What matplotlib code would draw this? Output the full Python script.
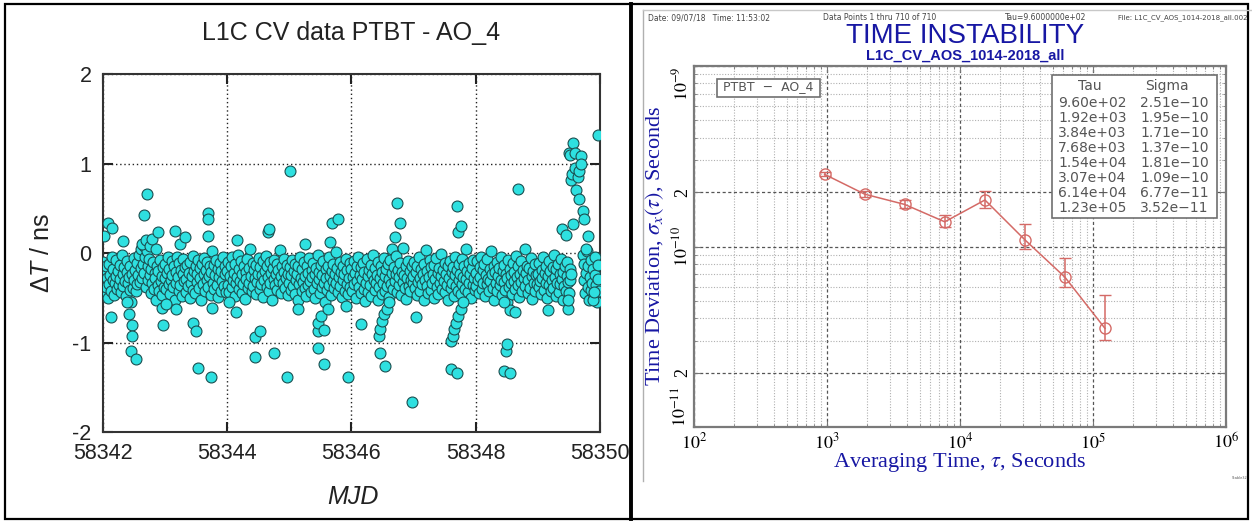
import numpy as np
import matplotlib
matplotlib.use("Agg")
import matplotlib.pyplot as plt
from matplotlib.patches import Rectangle
from matplotlib.lines import Line2D
from matplotlib.ticker import LogLocator, NullFormatter

plt.rcParams['mathtext.fontset'] = 'stix'
plt.rcParams['mathtext.rm'] = 'Liberation Sans'
plt.rcParams['mathtext.it'] = 'Liberation Sans:italic'
plt.rcParams['mathtext.bf'] = 'Liberation Sans:bold'

# ---------------- Left panel data: L1C CV data PTBT - AO_4 ----------------
nan = np.nan
band_days = [58342, 58343, 58344, 58345, 58346, 58347, 58348, 58349]
band_day0 = [-0.10,-0.32,-0.45,-0.22,-0.38,-0.15,-0.28,-0.50,-0.12,-0.35,
             -0.25,-0.42,-0.05,-0.30,-0.18,-0.47,-0.33,-0.08,-0.26,-0.40,
             -0.20,-0.36,-0.13,-0.29,-0.44,-0.02,-0.24,-0.37,-0.16,-0.31,
             -0.48,-0.21,-0.09,-0.34,-0.27,-0.41,-0.14,-0.55,-0.23,-0.39,
             -0.06,-0.30,-0.19,-0.43,-0.11,-0.35,-0.25,-0.02,-0.32,-0.17,
             0.05,-0.28,-0.12,0.08,-0.22,-0.04,-0.38,0.02,-0.15,-0.30,
             -0.07,-0.25,-0.45,-0.18,-0.33,-0.10,-0.40,-0.22,-0.28,-0.52,
             -0.14,-0.36,-0.20,-0.43,-0.08,-0.31,-0.26,-0.47,-0.16,-0.38]
band_day1 = [-0.28,-0.12,-0.40,-0.22,-0.05,-0.35,-0.18,-0.46,-0.30,-0.09,
             -0.25,-0.38,-0.15,-0.52,-0.21,-0.33,-0.04,-0.27,-0.42,-0.11,
             -0.36,-0.19,-0.48,-0.24,-0.07,-0.31,-0.16,-0.44,-0.29,-0.13,
             -0.37,-0.22,-0.50,-0.10,-0.34,-0.26,-0.41,-0.03,-0.20,-0.45,
             -0.14,-0.32,-0.23,-0.08,-0.39,-0.17,-0.28,-0.53,-0.12,-0.35,
             -0.24,-0.06,-0.43,-0.19,-0.30,-0.10,-0.38,-0.26,-0.15,-0.47,
             -0.21,0.02,-0.33,-0.13,-0.40,-0.25,-0.08,-0.36,-0.18,-0.49,
             -0.27,-0.11,-0.42,-0.20,-0.31,-0.05,-0.37,-0.23,-0.14,-0.44]
band_day2 = [-0.20,-0.36,-0.10,-0.44,-0.26,-0.15,-0.38,-0.05,-0.30,-0.22,
             -0.48,-0.12,-0.34,-0.27,-0.02,-0.40,-0.18,-0.31,-0.09,-0.45,
             -0.24,-0.35,-0.14,-0.51,-0.21,-0.29,-0.07,-0.39,-0.17,-0.33,
             0.04,-0.26,-0.42,-0.11,-0.37,-0.19,-0.28,-0.46,-0.13,-0.32,
             -0.23,-0.06,-0.40,-0.16,-0.35,-0.25,-0.49,-0.09,-0.30,-0.20,
             -0.03,-0.38,-0.14,-0.27,-0.43,-0.10,-0.33,-0.22,-0.52,-0.17,
             -0.29,-0.08,-0.36,-0.24,-0.12,-0.41,-0.19,-0.31,0.03,-0.26,
             -0.45,-0.15,-0.34,-0.21,-0.07,-0.39,-0.28,-0.13,-0.47,-0.23]
band_day3 = [-0.33,-0.16,-0.41,-0.25,-0.08,-0.37,-0.20,-0.46,-0.12,-0.30,
             -0.23,-0.52,-0.15,-0.35,-0.04,-0.28,-0.43,-0.18,-0.32,-0.10,
             -0.39,-0.26,-0.48,-0.14,-0.22,-0.36,-0.06,-0.31,-0.44,-0.19,
             -0.27,-0.11,-0.40,-0.24,-0.50,-0.17,-0.34,-0.02,-0.29,-0.21,
             -0.45,-0.13,-0.38,-0.25,-0.09,-0.33,-0.55,-0.18,-0.28,-0.41,
             -0.15,-0.36,-0.05,-0.26,-0.47,-0.20,-0.31,-0.12,-0.39,-0.23,
             0.01,-0.34,-0.17,-0.44,-0.27,-0.10,-0.37,-0.21,-0.49,-0.14,
             -0.30,-0.24,-0.42,-0.07,-0.35,-0.19,-0.46,-0.28,-0.11,-0.38]
band_day4 = [-0.18,-0.42,-0.27,-0.09,-0.35,-0.22,-0.50,-0.14,-0.31,-0.05,
             -0.38,-0.25,-0.45,-0.16,-0.29,-0.11,-0.40,-0.21,-0.54,-0.33,
             -0.07,-0.26,-0.44,-0.19,-0.36,-0.13,-0.48,-0.23,-0.02,-0.30,
             -0.41,-0.17,-0.34,-0.25,-0.52,-0.10,-0.38,-0.28,-0.15,-0.46,
             -0.21,-0.33,-0.06,-0.43,-0.26,-0.18,-0.37,-0.12,-0.49,-0.29,
             -0.08,-0.35,-0.22,0.05,-0.40,-0.16,-0.31,-0.24,-0.03,-0.44,
             -0.19,-0.36,-0.27,-0.11,-0.47,-0.21,-0.32,0.06,-0.25,-0.39,
             -0.14,-0.51,-0.28,-0.09,-0.37,-0.20,-0.43,-0.30,-0.15,-0.34]
band_day5 = [-0.26,-0.10,-0.39,-0.21,-0.47,-0.15,-0.32,-0.04,-0.28,-0.43,
             -0.18,-0.35,-0.24,-0.52,-0.12,-0.30,0.03,-0.37,-0.20,-0.45,
             -0.27,-0.08,-0.41,-0.16,-0.33,-0.23,-0.50,-0.13,-0.29,-0.06,
             -0.38,-0.22,-0.46,-0.17,-0.34,-0.26,-0.01,-0.40,-0.19,-0.31,
             -0.11,-0.44,-0.24,-0.36,-0.14,-0.53,-0.28,-0.09,-0.39,-0.21,
             -0.33,-0.16,-0.48,-0.25,-0.05,-0.37,-0.19,-0.42,-0.12,-0.30,
             -0.23,-0.46,-0.07,-0.35,-0.27,-0.15,-0.40,0.04,-0.29,-0.20,
             -0.44,-0.11,-0.33,-0.24,-0.50,-0.17,-0.36,-0.08,-0.28,-0.41]
band_day6 = [-0.22,-0.37,-0.09,-0.30,-0.45,-0.16,-0.27,-0.04,-0.40,-0.19,
             -0.33,-0.12,-0.48,-0.25,-0.35,-0.07,-0.29,-0.42,-0.18,-0.31,
             0.02,-0.24,-0.39,-0.14,-0.52,-0.21,-0.34,-0.10,-0.43,-0.26,
             -0.17,-0.36,-0.05,-0.30,-0.47,-0.20,-0.32,-0.13,-0.41,-0.23,
             -0.55,-0.28,-0.08,-0.38,-0.18,-0.34,-0.25,-0.46,-0.11,-0.31,
             -0.21,-0.40,-0.03,-0.27,-0.36,-0.15,-0.49,-0.24,-0.32,-0.09,
             -0.43,-0.19,-0.28,0.05,-0.37,-0.22,-0.14,-0.45,-0.30,-0.17,
             -0.39,-0.06,-0.26,-0.51,-0.20,-0.33,-0.12,-0.42,-0.25,-0.35]
band_day7 = [-0.24,-0.38,-0.11,-0.31,-0.46,-0.19,-0.28,-0.05,-0.41,-0.22,
             -0.34,-0.14,-0.50,-0.26,-0.09,-0.36,-0.20,-0.43,-0.30,-0.16,
             -0.39,-0.02,-0.27,-0.48,-0.18,-0.33,-0.12,-0.44,-0.23,-0.35,
             -0.07,-0.29,-0.53,-0.21,-0.37,-0.15,-0.42,-0.26,-0.10,-0.32,
             -0.45,-0.18,-0.30,-0.24,nan,nan,nan,nan,nan,nan,
             nan,nan,nan,nan,nan,nan,nan,nan,-0.02,-0.30,
             -0.12,-0.45,-0.22,0.02,-0.38,-0.15,-0.52,-0.27,-0.08,-0.41,
             -0.33,-0.18,-0.48,-0.05,-0.25,-0.36,-0.55,-0.13,-0.29,-0.43]
band_values = [band_day0, band_day1, band_day2, band_day3,
               band_day4, band_day5, band_day6, band_day7]
epochs_per_day = 80

# Points standing out of the main band (MJD, delta T in ns)
out_mjd = [58342.03, 58342.09, 58342.16, 58342.13, 58342.33, 58342.40, 58342.43,
           58342.46, 58342.47, 58342.48, 58342.54, 58342.67, 58342.72, 58342.64,
           58342.70, 58342.76, 58342.80, 58342.86, 58342.90, 58342.98, 58342.95,
           58343.02, 58343.17, 58343.18, 58343.25, 58343.33, 58343.45, 58343.51,
           58343.54, 58343.69, 58343.69, 58343.70, 58343.74, 58343.76,
           58344.04, 58344.14, 58344.17, 58344.46, 58344.46, 58344.53, 58344.66,
           58344.68, 58344.75, 58344.96,
           58345.02, 58345.14, 58345.26, 58345.46, 58345.46, 58345.46, 58345.52,
           58345.56, 58345.56, 58345.62, 58345.66, 58345.69, 58345.78, 58345.92,
           58345.95,
           58346.15, 58346.44, 58346.46, 58346.47, 58346.50, 58346.53, 58346.55,
           58346.57, 58346.61, 58346.70, 58346.73, 58346.79, 58346.98,
           58347.04, 58347.60, 58347.60, 58347.63, 58347.66, 58347.69, 58347.70,
           58347.72, 58347.72, 58347.70, 58347.77, 58347.76, 58347.80,
           58348.46, 58348.49, 58348.50, 58348.56, 58348.56, 58348.63, 58348.45,
           58348.68,
           58349.16, 58349.49, 58349.49, 58349.39, 58349.45,
           58349.50, 58349.52, 58349.54, 58349.55, 58349.57, 58349.57, 58349.59,
           58349.60, 58349.62, 58349.64, 58349.66, 58349.67, 58349.69, 58349.70,
           58349.72, 58349.74, 58349.80, 58349.78, 58349.88, 58349.90, 58349.97]
out_val = [0.19, 0.34, 0.28, -0.72, 0.13, -0.55, -0.68,
           -1.09, -0.81, -0.93, -1.18, 0.42, 0.66, 0.10,
           0.14, 0.08, 0.16, 0.05, 0.24, -0.80, -0.62,
           -0.57, 0.25, -0.63, 0.10, 0.18, -0.78, -0.87,
           -1.28, 0.45, 0.38, 0.19, -1.39, -0.62,
           -0.55, -0.66, 0.15, -0.94, -1.16, -0.87, 0.23,
           0.27, -1.12, -1.38,
           0.92, -0.63, 0.10, -0.87, -0.78, -1.06, -0.70,
           -0.86, -1.24, -0.63, 0.12, 0.34, 0.38, -0.59,
           -1.39,
           -0.79, -0.93, -0.85, -1.12, -0.76, -0.68, -1.26,
           -0.63, -0.55, 0.18, 0.56, 0.34, -1.67,
           -0.71, -1.30, -0.98, -0.93, -0.85, -0.78, -1.34,
           -0.70, 0.23, 0.53, 0.30, -0.63, -0.55,
           -1.32, -1.09, -1.02, -1.34, -0.64, -0.66, -0.55,
           0.71,
           -0.64, -0.63, -0.52, 0.27, 0.20,
           1.12, 1.10, 0.82, 0.88, 1.23, 0.32, 1.12,
           0.95, 0.70, 0.85, 0.60, 0.92, 1.08, 1.00,
           0.47, 0.38, 0.19, 0.05, -0.53, -0.44, 1.32]

left_xticks = [58342, 58344, 58346, 58348, 58350]
left_yticks = [-2, -1, 0, 1, 2]
left_ytick_labels = ['-2', '-1', '0', '1', '2']

# ---------------- Right panel data: Stable32 TDEV ----------------
tau = [9.60e2, 1.92e3, 3.84e3, 7.68e3, 1.54e4, 3.07e4, 6.14e4, 1.23e5]
sigma = [2.51e-10, 1.95e-10, 1.71e-10, 1.37e-10, 1.81e-10, 1.09e-10, 6.77e-11, 3.52e-11]
sigma_lo = [2.45e-10, 1.88e-10, 1.63e-10, 1.29e-10, 1.63e-10, 0.97e-10, 5.94e-11, 3.02e-11]
sigma_hi = [2.59e-10, 2.02e-10, 1.80e-10, 1.50e-10, 2.04e-10, 1.33e-10, 8.61e-11, 5.38e-11]
tau_labels = ['9.60e+02', '1.92e+03', '3.84e+03', '7.68e+03',
              '1.54e+04', '3.07e+04', '6.14e+04', '1.23e+05']
sigma_labels = ['2.51e\u221210', '1.95e\u221210', '1.71e\u221210', '1.37e\u221210',
                '1.81e\u221210', '1.09e\u221210', '6.77e\u221211', '3.52e\u221211']
right_xticks = [1e2, 1e3, 1e4, 1e5, 1e6]
right_xtick_labels = [r'$10^{2}$', r'$10^{3}$', r'$10^{4}$', r'$10^{5}$', r'$10^{6}$']
right_yticks = [1e-11, 2e-11, 1e-10, 2e-10, 1e-9]
right_ytick_labels = [r'$10^{-11}$', '2', r'$10^{-10}$', '2', r'$10^{-9}$']

# ---------------- Figure ----------------
W, H = 1252, 521
fig = plt.figure(figsize=(W / 100, H / 100), dpi=100)
fig.patch.set_facecolor('white')


def box(l, t, r, b):
    return [l / W, 1 - b / H, (r - l) / W, (b - t) / H]


# ---- Left axes ----
ax1 = fig.add_axes(box(102.5, 74, 600, 432))
for d, vals in zip(band_days, band_values):
    x = d + np.arange(len(vals)) / epochs_per_day
    ax1.scatter(x, vals, s=62, facecolor='#2ee0e0', edgecolor='#1b4f50',
                linewidth=0.8, zorder=3)
ax1.scatter(out_mjd, out_val, s=62, facecolor='#2ee0e0', edgecolor='#1b4f50',
            linewidth=0.8, zorder=3)
ax1.set_xlim(58342, 58350)
ax1.set_ylim(-2, 2)
ax1.set_xticks(left_xticks)
ax1.set_xticklabels([str(v) for v in left_xticks])
ax1.set_yticks(left_yticks)
ax1.set_yticklabels(left_ytick_labels)
ax1.grid(True, linestyle=(0, (1, 2)), color='#222222', linewidth=1.0, zorder=1)
ax1.set_axisbelow(True)
ax1.tick_params(direction='in', length=7, width=1.5, top=True, right=True,
                labelsize=15.5, pad=8, colors='#222222')
for lbl in ax1.get_xticklabels() + ax1.get_yticklabels():
    lbl.set_fontfamily('Liberation Sans')
for sp in ax1.spines.values():
    sp.set_linewidth(1.5)
    sp.set_color('#333333')

fig.text(351 / W, 1 - 33 / H, 'L1C CV data PTBT - AO_4', ha='center', va='center',
         fontsize=18, family='Liberation Sans', color='#222222')
fig.text(42 / W, 1 - 253 / H, r'$\Delta\mathit{T}$ / ns', rotation=90,
         ha='center', va='center', fontsize=18, family='Liberation Sans',
         color='#222222', math_fontfamily='custom')
fig.text(353 / W, 1 - 497 / H, 'MJD', ha='center', va='center', fontsize=18,
         family='Liberation Sans', style='italic', color='#222222')

# ---- Right axes ----
navy = '#1717a3'
red = '#d46a66'
ax2 = fig.add_axes(box(694, 66, 1226, 427))
ax2.set_xscale('log')
ax2.set_yscale('log')
ax2.set_xlim(1e2, 1e6)
ax2.set_ylim(1e-11, 1e-9)
ax2.xaxis.set_minor_locator(LogLocator(base=10, subs=np.arange(2, 10), numticks=20))
ax2.yaxis.set_minor_locator(LogLocator(base=10, subs=np.arange(2, 10), numticks=20))
ax2.xaxis.set_minor_formatter(NullFormatter())
ax2.yaxis.set_minor_formatter(NullFormatter())
ax2.set_xticks(right_xticks)
ax2.set_xticklabels(right_xtick_labels)
ax2.set_yticks(right_yticks)
ax2.set_yticklabels(right_ytick_labels, rotation=90, va='center')
ylbls = ax2.get_yticklabels()
ylbls[0].set_va('bottom')
ylbls[-1].set_va('top')
ax2.grid(True, which='minor', linestyle=(0, (1, 1.5)), color='#b0b0b0', linewidth=0.8)
ax2.grid(True, which='major', linestyle=(0, (2.5, 2)), color='#555555', linewidth=0.9)
ax2.set_axisbelow(True)
ax2.tick_params(which='both', direction='in', top=True, right=True, colors='#777777',
                labelcolor='black')
ax2.tick_params(which='major', length=4, width=0.8, labelsize=13)
ax2.tick_params(axis='x', which='major', pad=4)
ax2.tick_params(axis='y', which='major', pad=2)
ax2.tick_params(which='minor', length=2.5, width=0.6)
for lbl in ax2.get_xticklabels() + ax2.get_yticklabels():
    lbl.set_fontfamily('Liberation Serif')
for sp in ax2.spines.values():
    sp.set_linewidth(1.6)
    sp.set_color('#7a7a7a')

sig = np.array(sigma)
ax2.errorbar(tau, sigma, yerr=[sig - np.array(sigma_lo), np.array(sigma_hi) - sig],
             fmt='-o', color=red, mfc='none', mec=red, ms=8, mew=1.0, lw=1.1,
             elinewidth=1.1, capsize=4, capthick=1.1, zorder=5)

fig.text(655 / W, 1 - 246 / H, r'Time Deviation, $\sigma_x(\tau)$, Seconds',
         rotation=90, ha='center', va='center', fontsize=16,
         family='Liberation Serif', color=navy)
fig.text(960 / W, 1 - 462 / H, r'Averaging Time, $\tau$, Seconds', ha='center',
         va='center', fontsize=16, family='Liberation Serif', color=navy)

# ---- Overlay in pixel coordinates (frames, header text, boxes) ----
ov = fig.add_axes([0, 0, 1, 1], zorder=10)
ov.set_xlim(0, W)
ov.set_ylim(H, 0)
ov.axis('off')
ov.patch.set_alpha(0)

# Stable32 light frame
ov.add_line(Line2D([643, 643], [10, 481], color='#b0b0b0', lw=1))
ov.add_line(Line2D([643, 1252], [10, 10], color='#c8c8c8', lw=1))

hdr = dict(fontsize=5.5, color='#444444', va='center', family='DejaVu Sans')
ov.text(648, 18, 'Date: 09/07/18   Time: 11:53:02', ha='left', **hdr)
ov.text(823, 18, 'Data Points 1 thru 710 of 710', ha='left', **hdr)
ov.text(1005, 18, 'Tau=9.6000000e+02', ha='left', **hdr)
ov.text(1247, 18, 'File: L1C_CV_AOS_1014-2018_all.002', ha='right',
        fontsize=5, color='#444444', va='center', family='DejaVu Sans')
ov.text(965, 36, 'TIME INSTABILITY', ha='center', va='center', fontsize=20,
        family='Liberation Sans', color=navy)
ov.text(965, 56, 'L1C_CV_AOS_1014-2018_all', ha='center', va='center', fontsize=10.5,
        family='Liberation Sans', fontweight='bold', color=navy)
ov.text(1240, 478, 'Stable32', ha='center', va='center', fontsize=2.5, color='#555555')

# legend box
ov.add_patch(Rectangle((717, 79), 103, 18, facecolor='white', edgecolor='#707070', lw=1.2))
ov.text(768.5, 87, 'PTBT  \u2212  AO_4', ha='center', va='center', fontsize=9,
        color='#555555', family='DejaVu Sans')

# table box
ov.add_patch(Rectangle((1052, 75), 165, 143, facecolor='white', edgecolor='#707070', lw=1.2))
tbl = dict(fontsize=10, color='#555555', va='center', family='DejaVu Sans')
ov.text(1090, 86, 'Tau', ha='center', **tbl)
ov.text(1167, 86, 'Sigma', ha='center', **tbl)
for k, (tl, sl) in enumerate(zip(tau_labels, sigma_labels)):
    yk = 103 + 15 * k
    ov.text(1058, yk, tl, ha='left', **tbl)
    ov.text(1140, yk, sl, ha='left', **tbl)

# outer black frame and divider
ov.add_patch(Rectangle((5, 4), 1243, 515, facecolor='none', edgecolor='black', lw=1.6))
ov.add_line(Line2D([631, 631], [4, 519], color='black', lw=2.8))

fig.savefig('out.png', dpi=100, facecolor='white')
